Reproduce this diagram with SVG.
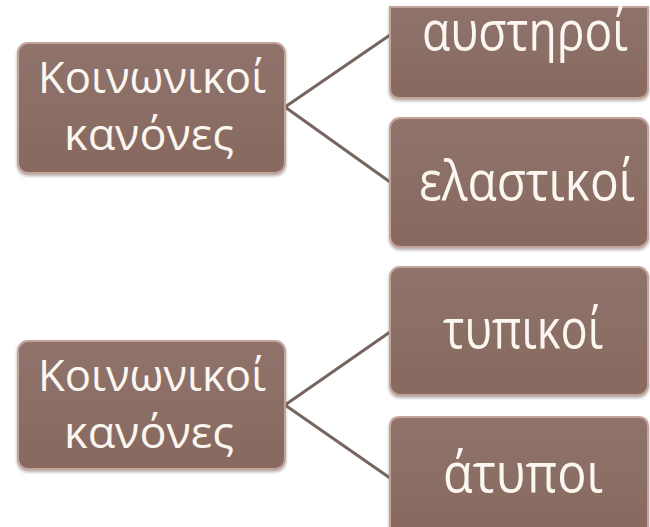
<svg xmlns="http://www.w3.org/2000/svg" width="650" height="527" viewBox="0 0 650 527">
  <defs>
    <linearGradient id="boxFill" x1="0" y1="0" x2="0" y2="1">
      <stop offset="0" stop-color="#8f736c"/>
      <stop offset="1" stop-color="#87695f"/>
    </linearGradient>
    <filter id="shade" x="-5%" y="-5%" width="110%" height="115%">
      <feDropShadow dx="0" dy="2" stdDeviation="1.5" flood-color="#5a4640" flood-opacity="0.45"/>
    </filter>
  </defs>
  <style>
    .box { fill: url(#boxFill); stroke: #c4a39a; stroke-width: 2; filter: url(#shade); }
    .label { font-family: "Open Sans", "Noto Sans", "DejaVu Sans", sans-serif; fill: #fbf6ef; text-anchor: middle; }
    .root { font-size: 44px; }
    .leaf { font-size: 54px; }
    .link { stroke: #76655f; stroke-width: 3; fill: none; stroke-linecap: round; }
  </style>

  <rect width="650" height="527" fill="#ffffff"/>

  <!-- connectors -->
  <g id="connectors">
    <line class="link" x1="285" y1="107" x2="390" y2="35"/>
    <line class="link" x1="285" y1="107" x2="390" y2="182"/>
    <line class="link" x1="285" y1="405" x2="390" y2="332"/>
    <line class="link" x1="285" y1="405" x2="390" y2="478"/>
  </g>

  <!-- upper tree -->
  <g id="root-1">
    <rect class="box" x="18" y="43" width="267" height="130" rx="10"/>
    <text class="label root" x="152" y="93" textLength="228" lengthAdjust="spacingAndGlyphs">Κοινωνικοί</text>
    <text class="label root" x="149" y="150" textLength="170" lengthAdjust="spacingAndGlyphs">κανόνες</text>
  </g>
  <g id="strict">
    <path class="box" d="M390 7 H648 V88 Q648 98 638 98 H400 Q390 98 390 88 Z"/>
    <text class="label leaf" x="525" y="50" textLength="206" lengthAdjust="spacingAndGlyphs">αυστηροί</text>
  </g>
  <g id="elastic">
    <rect class="box" x="390" y="118" width="258" height="129" rx="10"/>
    <text class="label leaf" x="527" y="200" textLength="216" lengthAdjust="spacingAndGlyphs">ελαστικοί</text>
  </g>

  <!-- lower tree -->
  <g id="root-2">
    <rect class="box" x="18" y="341" width="267" height="128" rx="10"/>
    <text class="label root" x="152" y="391" textLength="228" lengthAdjust="spacingAndGlyphs">Κοινωνικοί</text>
    <text class="label root" x="149" y="448" textLength="170" lengthAdjust="spacingAndGlyphs">κανόνες</text>
  </g>
  <g id="formal">
    <rect class="box" x="390" y="267" width="258" height="128" rx="10"/>
    <text class="label leaf" x="523" y="348" textLength="160" lengthAdjust="spacingAndGlyphs">τυπικοί</text>
  </g>
  <g id="informal">
    <path class="box" d="M390 540 V427 Q390 417 400 417 H638 Q648 417 648 427 V540 Z"/>
    <text class="label leaf" x="523" y="492" textLength="160" lengthAdjust="spacingAndGlyphs">άτυποι</text>
  </g>
</svg>
